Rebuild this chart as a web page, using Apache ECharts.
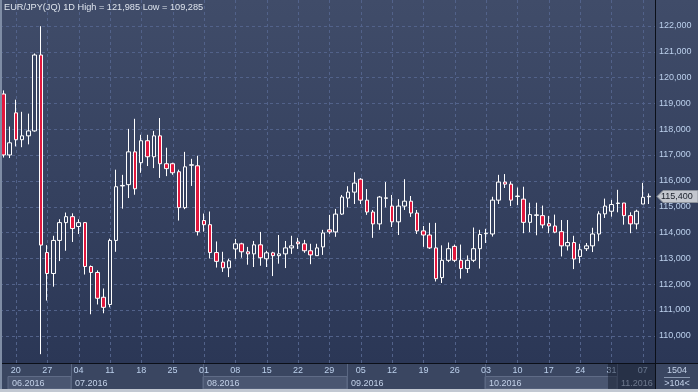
<!DOCTYPE html>
<html><head><meta charset="utf-8">
<script src="https://cdn.jsdelivr.net/npm/echarts@6/dist/echarts.min.js"></script>
<style>html,body{margin:0;padding:0;background:#2c3755}#c{width:698px;height:392px}</style>
</head><body><div id="c"></div>
<script>
const dates = [
'2016-06-16','2016-06-17','2016-06-20','2016-06-21','2016-06-22','2016-06-23','2016-06-24','2016-06-27','2016-06-28','2016-06-29','2016-06-30',
'2016-07-01','2016-07-04','2016-07-05','2016-07-06','2016-07-07','2016-07-08','2016-07-11','2016-07-12','2016-07-13','2016-07-14','2016-07-15','2016-07-18','2016-07-19','2016-07-20','2016-07-21','2016-07-22','2016-07-25','2016-07-26','2016-07-27','2016-07-28','2016-07-29',
'2016-08-01','2016-08-02','2016-08-03','2016-08-04','2016-08-05','2016-08-08','2016-08-09','2016-08-10','2016-08-11','2016-08-12','2016-08-15','2016-08-16','2016-08-17','2016-08-18','2016-08-19','2016-08-22','2016-08-23','2016-08-24','2016-08-25','2016-08-26','2016-08-29','2016-08-30','2016-08-31',
'2016-09-01','2016-09-02','2016-09-05','2016-09-06','2016-09-07','2016-09-08','2016-09-09','2016-09-12','2016-09-13','2016-09-14','2016-09-15','2016-09-16','2016-09-19','2016-09-20','2016-09-21','2016-09-22','2016-09-23','2016-09-26','2016-09-27','2016-09-28','2016-09-29','2016-09-30',
'2016-10-03','2016-10-04','2016-10-05','2016-10-06','2016-10-07','2016-10-10','2016-10-11','2016-10-12','2016-10-13','2016-10-14','2016-10-17','2016-10-18','2016-10-19','2016-10-20','2016-10-21','2016-10-24','2016-10-25','2016-10-26','2016-10-27','2016-10-28','2016-10-31',
'2016-11-01','2016-11-02','2016-11-03','2016-11-04','2016-11-07','2016-11-08'];

const opens = [
119.36,117.00,118.63,117.59,117.74,117.93,120.87,113.22,112.41,113.69,114.38,
114.61,114.23,114.38,112.68,112.45,111.49,111.21,113.69,115.80,115.85,117.12,116.70,117.55,116.93,117.74,116.66,116.66,116.35,114.96,116.60,116.58,
114.46,114.30,113.22,112.85,112.63,113.36,113.56,113.25,113.17,113.52,112.98,113.21,113.10,113.17,113.40,113.63,113.56,113.29,113.10,113.44,114.10,114.02,114.71,
115.33,115.56,116.06,115.25,114.79,114.33,115.32,115.02,114.41,115.02,115.21,114.75,114.06,113.90,113.40,112.25,112.92,113.46,112.92,112.60,112.92,113.37,
113.95,113.94,115.25,115.95,115.87,115.39,115.29,114.39,114.66,114.65,114.34,114.25,114.03,113.48,113.61,113.07,113.37,113.48,113.94,114.72,114.82,
115.12,115.14,114.65,114.33,115.10,115.38];
const closes = [
117.00,117.47,117.59,117.74,117.93,120.87,113.51,112.41,113.69,114.38,114.61,
114.15,114.38,112.68,112.45,111.45,111.10,113.69,115.77,115.82,117.12,115.69,117.55,116.93,117.74,116.66,116.47,116.31,114.96,116.54,116.62,114.03,
114.30,113.22,112.88,112.63,112.90,113.56,113.25,113.17,113.52,113.02,113.21,113.10,113.17,113.40,113.48,113.56,113.29,113.13,113.40,113.98,114.02,114.71,115.37,
115.56,115.91,115.25,114.79,114.33,115.37,115.34,114.41,115.02,115.21,114.75,114.06,113.90,113.40,112.21,112.92,113.37,112.92,112.60,112.92,113.37,113.92,
113.97,115.25,115.95,115.87,115.25,115.41,114.39,114.69,114.68,114.29,114.25,114.01,113.48,113.61,112.97,113.33,113.48,113.94,114.72,115.02,115.08,
115.14,114.65,114.33,114.82,115.36,115.40];
const lows = [
116.90,116.88,117.33,117.30,117.41,117.90,109.285,111.36,111.90,112.89,113.29,
113.63,113.94,112.37,110.83,111.21,110.87,111.10,113.25,114.92,115.33,115.46,116.31,116.57,116.49,116.11,116.18,116.23,114.46,114.90,115.80,113.88,
114.03,112.99,112.64,112.47,112.27,112.98,113.02,112.75,112.66,112.71,112.66,112.31,112.79,112.62,113.17,113.36,113.21,112.77,113.10,113.13,113.94,113.83,114.68,
114.97,115.10,115.10,114.68,113.79,114.10,114.97,114.21,113.90,114.87,114.60,113.94,113.44,113.36,112.10,112.04,112.85,112.85,112.21,112.43,112.85,112.60,
113.59,113.84,115.10,115.72,115.02,115.06,113.97,114.01,113.89,114.16,113.97,113.97,113.07,113.30,112.58,112.81,113.28,113.24,113.66,114.56,114.61,
114.78,114.30,113.97,114.12,115.10,115.10];
const highs = [
119.50,118.10,119.14,118.67,118.60,120.93,121.985,113.51,113.87,114.51,114.77,
114.74,114.51,114.40,112.72,112.53,111.83,113.76,116.43,116.23,118.01,118.40,117.78,117.78,117.93,118.43,117.28,116.70,116.43,117.12,116.85,116.97,
114.73,114.81,113.65,113.25,112.98,113.75,113.60,113.44,113.67,114.02,113.29,113.25,113.90,113.67,113.87,113.79,113.71,113.56,113.56,114.10,114.68,114.91,115.45,
115.79,116.33,116.10,115.68,114.87,115.41,115.95,115.45,115.29,116.06,115.41,114.87,114.25,114.37,114.37,113.50,113.61,113.53,113.53,113.11,114.19,114.10,
114.14,115.38,116.23,116.26,115.97,115.74,115.77,115.15,115.15,115.04,114.64,114.69,114.48,114.48,113.87,113.56,113.59,114.18,114.82,115.31,115.26,
115.65,115.14,114.78,114.88,115.92,115.51];

const yTicks = [110,111,112,113,114,115,116,117,118,119,120,121,122];
const titleText = 'EUR/JPY(JQ) 1D High = 121,985 Low = 109,285';
const lastPrice = 115.400;
const totalBars = '1504';
const shownBars = '>104<';
const months = [
  {label:'06.2016', first:'2016-06-16', light:true},
  {label:'07.2016', first:'2016-07-01', light:false},
  {label:'08.2016', first:'2016-08-01', light:true},
  {label:'09.2016', first:'2016-09-01', light:false},
  {label:'10.2016', first:'2016-10-03', light:true},
  {label:'11.2016', first:'2016-11-01', light:false}
];
const currentWeekStart = '2016-10-31';

const FONT = 'Liberation Sans, Arial, sans-serif';
const GRID = '#52628a';
const isMonday = d => new Date(d + 'T00:00:00Z').getUTCDay() === 1;
const mondays = dates.filter(isMonday);
const fmt = v => v.toFixed(3).replace('.', ',');

const candleData = dates.map((d, i) => [opens[i], closes[i], lows[i], highs[i]]);

const chart = echarts.init(document.getElementById('c'), null, {renderer: 'canvas'});
const option = {
  animation: false,
  backgroundColor: '#2c3755',
  title: {text: titleText, left: 4, top: 3, padding: 0,
    textStyle: {color: '#dde3ec', fontSize: 9.2, fontWeight: 'normal', fontFamily: FONT}},
  grid: {left: 0.17, top: -1.75, width: 652.08, height: 363.3, containLabel: false},
  xAxis: {type: 'category', data: dates, boundaryGap: true,
    axisLine: {show: false}, axisTick: {show: false}, splitLine: {show: false},
    axisLabel: {interval: (i, v) => isMonday(v), formatter: v => v.slice(8, 10),
      color: '#bcd0ec', fontSize: 9, fontFamily: FONT, margin: 4.5}},
  yAxis: {type: 'value', position: 'right', offset: 2.75, min: 109, max: 123, interval: 1,
    axisLine: {show: false}, axisTick: {show: false}, splitLine: {show: false},
    axisLabel: {margin: 4, color: '#bcd0ec', fontSize: 9, fontFamily: FONT, padding: [3, 0, 0, 0],
      formatter: v => (v >= 110 && v <= 122) ? fmt(v) : ''}},
  series: [
    {type: 'custom', z: 1, silent: true, clip: false,
      data: mondays.map(d => [d, 115]), encode: {x: 0, y: 1},
      renderItem: (params, api) => {
        const x = Math.round(api.coord([api.value(0), api.value(1)])[0]) + 0.5;
        return {type: 'line', shape: {x1: x, y1: 0, x2: x, y2: 363},
          style: {stroke: GRID, lineWidth: 1, lineDash: [3, 3]}};
      }},
    {type: 'custom', z: 1, silent: true, clip: false,
      data: yTicks.map(v => [dates[0], v]), encode: {x: 0, y: 1},
      renderItem: (params, api) => {
        const y = Math.round(api.coord([api.value(0), api.value(1)])[1]) + 0.5;
        return {type: 'line', shape: {x1: 0, y1: y, x2: 655, y2: y},
          style: {stroke: GRID, lineWidth: 1, lineDash: [3, 3]}};
      }},
    {type: 'candlestick', z: 2, data: candleData, barWidth: 4, clip: true,
      itemStyle: {color: '#35415f', color0: '#e2173d', borderColor: '#ffffff',
        borderColor0: '#ffffff', borderWidth: 1}}
  ]
};
chart.setOption(option);

const px = d => chart.convertToPixel({xAxisIndex: 0}, d);
const py = v => chart.convertToPixel({yAxisIndex: 0}, v);
const band = px(dates[1]) - px(dates[0]);

const g = [];
g.push({type: 'rect', silent: true, z: -100, shape: {x: 0, y: 0, width: 698, height: 363},
  style: {fill: new echarts.graphic.LinearGradient(0, 0, 0, 1, [
    {offset: 0, color: '#404c69'}, {offset: 1, color: '#2b3756'}])}});
g.push({type: 'rect', silent: true, z: -90, shape: {x: 0, y: 363, width: 698, height: 26},
  style: {fill: '#3a4661'}});
const starts = months.map((m, i) => Math.max(8, Math.round(px(m.first) - 1)));
months.forEach((m, i) => {
  const s = starts[i];
  const e = i < months.length - 1 ? starts[i + 1] : 655;
  if (m.light) {
    g.push({type: 'rect', silent: true, z: -80, shape: {x: s, y: 376.5, width: e - s, height: 12.5},
      style: {fill: '#4a5671', stroke: '#5f6b86', lineWidth: 1}});
  }
  if (i > 0) {
    g.push({type: 'line', silent: true, z: -70, shape: {x1: s + 0.5, y1: 363, x2: s + 0.5, y2: 389},
      style: {stroke: '#5a6782', lineWidth: 1}});
  }
  g.push({type: 'text', silent: true, z: 10, style: {text: m.label, x: s + 4, y: 383.5,
    fill: '#c3d1e8', font: '9px ' + FONT, align: 'left', verticalAlign: 'middle'}});
});
const ov = Math.round(px(currentWeekStart) - band / 2);
g.push({type: 'rect', silent: true, z: 50, shape: {x: ov, y: 363, width: 655 - ov, height: 26},
  style: {fill: 'rgba(20,27,45,0.5)'}});
g.push({type: 'line', silent: true, z: 60, shape: {x1: 655.5, y1: 0, x2: 655.5, y2: 389},
  style: {stroke: '#0b0f18', lineWidth: 1}});
g.push({type: 'line', silent: true, z: 60, shape: {x1: 0, y1: 363.5, x2: 698, y2: 363.5},
  style: {stroke: '#0b0f18', lineWidth: 1}});
g.push({type: 'rect', silent: true, z: 60, shape: {x: 0, y: 0, width: 2, height: 389},
  style: {fill: '#7f8da5'}});
g.push({type: 'rect', silent: true, z: 60, shape: {x: 0, y: 389, width: 698, height: 3},
  style: {fill: '#c2c8d2'}});
g.push({type: 'text', silent: true, z: 60, style: {text: totalBars, x: 677, y: 371,
  fill: '#c3d1e8', font: '9px ' + FONT, align: 'center', verticalAlign: 'middle'}});
g.push({type: 'line', silent: true, z: 60, shape: {x1: 664, y1: 377.5, x2: 690, y2: 377.5},
  style: {stroke: '#8a98b0', lineWidth: 1}});
g.push({type: 'text', silent: true, z: 60, style: {text: shownBars, x: 677, y: 383.5,
  fill: '#c3d1e8', font: '9px ' + FONT, align: 'center', verticalAlign: 'middle'}});
const yp = Math.round(py(lastPrice)) + 0.5;
g.push({type: 'polygon', silent: true, z: 70, shape: {points: [[657, yp], [663, yp - 6], [698, yp - 6], [698, yp + 6], [663, yp + 6]]},
  style: {fill: '#c3c7ce', stroke: '#8d939c', lineWidth: 1}});
g.push({type: 'text', silent: true, z: 71, style: {text: fmt(lastPrice), x: 661, y: yp + 0.5,
  fill: '#1a202a', font: '9px ' + FONT, align: 'left', verticalAlign: 'middle'}});
chart.setOption({graphic: g});
</script></body></html>
